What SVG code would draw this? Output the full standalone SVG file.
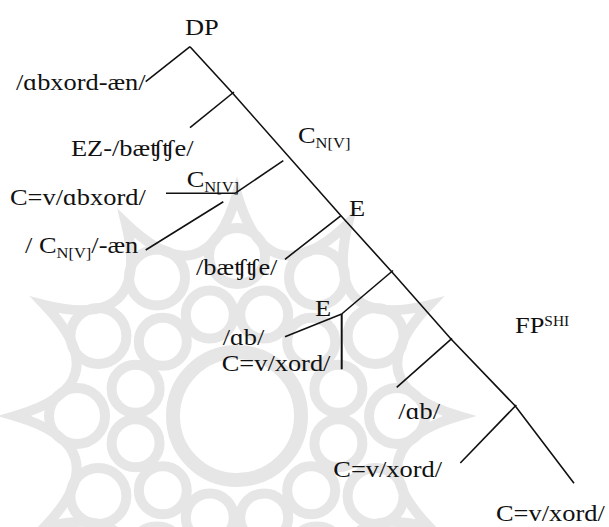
<svg xmlns="http://www.w3.org/2000/svg" width="609" height="527" viewBox="0 0 609 527">
<style>
.t{font-size:24px;fill:#111}
.s{font-size:15px}
.p{font-size:14px}
.e{fill:none;stroke:#111;stroke-width:1.6;stroke-linecap:butt;stroke-linejoin:miter}
.w{fill:none;stroke:#e6e6e6;stroke-width:10}
</style>
<rect width="609" height="527" fill="#fff"/>
<g id="watermark" class="w">
<path d="M459,416 Q352.9,447.1 429.3,527 Q321.9,500.9 348,608.3 Q268.1,531.9 237,638 Q205.9,531.9 126,608.3 Q152.1,500.9 44.7,527 Q121.1,447.1 15,416 Q121.1,384.9 44.7,305 Q152.1,331.1 126,223.7 Q205.9,300.1 237,194 Q268.1,300.1 348,223.7 Q321.9,331.1 429.3,305 Q352.9,384.9 459,416 Z"/>
<circle cx="237" cy="416" r="64" stroke-width="14"/>
<circle cx="338.4" cy="443.2" r="24"/><circle cx="311.2" cy="490.2" r="24"/><circle cx="264.2" cy="517.4" r="24"/><circle cx="209.8" cy="517.4" r="24"/><circle cx="162.8" cy="490.2" r="24"/><circle cx="135.6" cy="443.2" r="24"/><circle cx="135.6" cy="388.8" r="24"/><circle cx="162.8" cy="341.8" r="24"/><circle cx="209.8" cy="314.6" r="24"/><circle cx="264.2" cy="314.6" r="24"/><circle cx="311.2" cy="341.8" r="24"/><circle cx="338.4" cy="388.8" r="24"/>
<circle cx="397" cy="416" r="28"/><circle cx="375.6" cy="496" r="28"/><circle cx="317" cy="554.6" r="28"/><circle cx="157" cy="554.6" r="28"/><circle cx="98.4" cy="496" r="28"/><circle cx="77" cy="416" r="28"/><circle cx="98.4" cy="336" r="28"/><circle cx="157" cy="277.4" r="28"/><circle cx="237" cy="256" r="28"/><circle cx="317" cy="277.4" r="28"/><circle cx="375.6" cy="336" r="28"/>
</g>
<g id="connectors" class="e">
<polyline points="190,46.7 232.7,93.3 341,215.7 391.7,271.7 451,339 515.3,406 574,483.3"/>
<line x1="190" y1="46.7" x2="145.7" y2="81.7"/>
<line x1="234" y1="92" x2="190" y2="127.7"/>
<line x1="283.3" y1="160.7" x2="235" y2="193.3"/>
<line x1="166" y1="193.3" x2="235" y2="193.3"/>
<line x1="223.3" y1="201.7" x2="145.7" y2="250"/>
<line x1="341" y1="215.7" x2="285" y2="259.3"/>
<line x1="393" y1="270.5" x2="341.7" y2="314"/>
<line x1="341.7" y1="314" x2="285" y2="336.7"/>
<line x1="341.7" y1="314" x2="341.7" y2="369.3" stroke-width="2"/>
<line x1="452" y1="338.3" x2="396.7" y2="387.3"/>
<line x1="516.3" y1="405" x2="460.3" y2="463"/>
</g>
<g id="labels" font-family="Liberation Serif, DejaVu Serif, serif">
<g id="n-dp"><text class="t" transform="translate(185,35) scale(1.1,1)">DP</text></g>
<g id="n-abxord-aen"><text class="t" transform="translate(16,90) scale(1.1,1)">/ɑbxord-æn/</text></g>
<g id="n-ez"><text class="t" transform="translate(71,156) scale(1.1,1)">EZ-/bæʧʧe/</text></g>
<g id="n-cnv1"><text class="t" transform="translate(298,143) scale(1.1,1)">C<tspan class="s" dy="5">N[V]</tspan></text></g>
<g id="n-cnv2"><text class="t" transform="translate(186.7,187) scale(1.1,1)">C<tspan class="s" dy="5">N[V]</tspan></text></g>
<g id="n-cabxord"><text class="t" transform="translate(10,204.5) scale(1.1,1)">C=v/ɑbxord/</text></g>
<g id="n-cnv-aen"><text class="t" transform="translate(25,253) scale(1.1,1)">/ C<tspan class="s" dy="5">N[V]</tspan><tspan dy="-5">/-æn</tspan></text></g>
<g id="n-e1"><text class="t" transform="translate(349,216) scale(1.1,1)">E</text></g>
<g id="n-baetstse"><text class="t" transform="translate(196,275) scale(1.1,1)">/bæʧʧe/</text></g>
<g id="n-e2"><text class="t" transform="translate(315,316) scale(1.1,1)">E</text></g>
<g id="n-ab1"><text class="t" transform="translate(222.7,345) scale(1.1,1)">/ɑb/</text></g>
<g id="n-cxord1"><text class="t" transform="translate(221.7,371) scale(1.1,1)">C=v/xord/</text></g>
<g id="n-fp"><text class="t" transform="translate(515,333) scale(1.1,1)">FP<tspan class="p" dy="-7">SHI</tspan></text></g>
<g id="n-ab2"><text class="t" transform="translate(398.3,419.3) scale(1.1,1)">/ɑb/</text></g>
<g id="n-cxord2"><text class="t" transform="translate(333.3,477) scale(1.1,1)">C=v/xord/</text></g>
<g id="n-cxord3"><text class="t" transform="translate(496,521) scale(1.1,1)">C=v/xord/</text></g>
</g>
</svg>
